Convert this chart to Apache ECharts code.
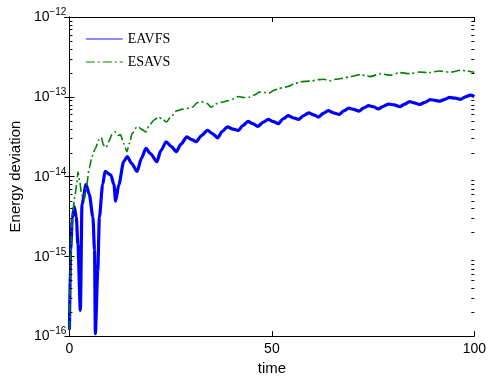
<!DOCTYPE html>
<html>
<head>
<meta charset="utf-8">
<script src="https://cdn.jsdelivr.net/npm/echarts@6/dist/echarts.min.js"></script>
<style>
  html, body { margin: 0; padding: 0; background: #fff; }
  #chart { width: 489px; height: 381px; }
</style>
</head>
<body>
<div id="chart"></div>
<script>
// Energy deviation over time for the two schemes
const tEAVFS = [0, 0.3, 0.7, 1.2, 1.7, 2.1, 2.7, 3.1, 4.1, 4.9, 5.8, 6.2, 6.4, 7.0, 7.4, 8.2, 8.8, 10.2, 11.0, 11.4,
  12.2, 13.4, 14.3, 15.3, 16.7, 17.8, 18.9, 20.0, 21.6, 22.6, 23.9, 25.1, 26.4, 27.5, 29.0, 30.2, 31.3, 32.6, 34.1, 35.3,
  36.6, 37.7, 39.0, 40.4, 41.7, 42.8, 44.1, 45.3, 46.5, 47.9, 49.1, 50.4, 51.6, 52.8, 54.0, 55.2, 56.6, 57.8, 59.1, 60.3,
  61.5, 62.7, 63.9, 65.2, 66.6, 67.8, 69.0, 70.2, 71.5, 72.7, 73.9, 75.1, 76.3, 77.5, 78.8, 80.2, 81.6, 82.8, 84.0, 85.2,
  86.4, 87.8, 89.1, 90.3, 91.5, 92.7, 93.9, 95.3, 96.6, 97.8, 99.0, 100];
const eavfs = [1.2e-16, 1.2e-15, 3.0e-15, 4.2e-15, 3.1e-15, 1.4e-15, 2.1e-16, 4.5e-15, 7.9e-15, 6.0e-15,
  3.1e-15, 1.2e-15, 1.07e-16, 6.7e-16, 3.1e-15, 7.9e-15, 1.16e-14, 1.05e-14, 7.9e-15, 4.9e-15,
  7.9e-15, 1.54e-14, 1.78e-14, 1.47e-14, 1.16e-14, 1.7e-14, 2.25e-14, 1.94e-14, 1.54e-14, 2.13e-14,
  2.73e-14, 2.39e-14, 2.05e-14, 2.53e-14, 3.15e-14, 2.91e-14, 2.73e-14, 3.27e-14, 3.8e-14, 3.46e-14,
  3.06e-14, 3.66e-14, 4.19e-14, 3.93e-14, 3.77e-14, 4.34e-14, 4.91e-14, 4.6e-14, 4.26e-14, 4.8e-14,
  5.2e-14, 4.87e-14, 4.6e-14, 5.3e-14, 5.8e-14, 5.46e-14, 5.2e-14, 5.78e-14, 6.3e-14, 5.94e-14,
  5.57e-14, 6.2e-14, 6.7e-14, 6.3e-14, 6.0e-14, 6.67e-14, 7.2e-14, 6.95e-14, 6.6e-14, 7.26e-14,
  7.75e-14, 7.5e-14, 7.05e-14, 7.6e-14, 8.1e-14, 7.9e-14, 7.5e-14, 8.1e-14, 8.7e-14, 8.4e-14,
  8.0e-14, 8.5e-14, 9.2e-14, 9.0e-14, 8.8e-14, 9.3e-14, 9.8e-14, 9.6e-14, 9.3e-14, 1.0e-13,
  1.05e-13, 1.01e-13];

const tESAVS = [0, 0.15, 0.4, 0.8, 1.3, 1.8, 2.1, 2.5, 3.0, 3.6, 4.2, 4.9, 5.6, 6.4, 7.2, 7.9, 8.4, 9.0, 9.8, 10.5,
  11.3, 12.0, 12.6, 13.4, 14.2, 14.8, 15.5, 16.5, 17.0, 18.0, 18.9, 19.8, 21.0, 22.0, 23.1, 24.0, 25.0, 26.5, 28.0, 29.5,
  30.5, 31.5, 32.6, 34.0, 35.0, 36.5, 37.8, 39.0, 40.5, 41.7, 43.0, 44.4, 45.6, 46.9, 48.2, 49.3, 50.6, 51.6, 53.4, 54.0,
  55.5, 56.9, 58.3, 59.8, 61.5, 62.9, 64.2, 65.7, 67.6, 69.5, 71.9, 73.5, 74.2, 77.0, 78.5, 79.2, 81.6, 84.0, 86.5, 88.9,
  91.3, 94.2, 96.6, 98.0, 99.3, 100];
const esavs = [1.2e-16, 4e-16, 1.5e-15, 3.5e-15, 5.5e-15, 8e-15, 1.15e-14, 9e-15, 6e-15, 5e-15,
  7.5e-15, 1.27e-14, 1.8e-14, 2.25e-14, 2.86e-14, 3.08e-14, 2.48e-14, 2.3e-14, 2.8e-14, 3.36e-14,
  3.63e-14, 3.27e-14, 3.36e-14, 2.6e-14, 2.05e-14, 2.6e-14, 3.45e-14, 4.1e-14, 4.18e-14, 3.87e-14,
  3.63e-14, 4.47e-14, 5.15e-14, 5.57e-14, 5.15e-14, 4.83e-14, 5.6e-14, 6.67e-14, 7.0e-14, 7.2e-14,
  7.45e-14, 8.4e-14, 8.7e-14, 8.25e-14, 7.4e-14, 8.25e-14, 8.6e-14, 8.9e-14, 9.4e-14, 1.01e-13,
  9.8e-14, 9.85e-14, 1.05e-13, 1.145e-13, 1.13e-13, 1.11e-13, 1.21e-13, 1.27e-13, 1.32e-13, 1.35e-13,
  1.44e-13, 1.54e-13, 1.56e-13, 1.58e-13, 1.64e-13, 1.66e-13, 1.58e-13, 1.66e-13, 1.71e-13, 1.79e-13,
  1.9e-13, 1.83e-13, 1.79e-13, 1.95e-13, 1.88e-13, 1.86e-13, 2.01e-13, 1.95e-13, 2.04e-13, 2.01e-13,
  2.1e-13, 2.04e-13, 2.15e-13, 2.12e-13, 2.06e-13, 2.03e-13];

const seriesNames = ['EAVFS', 'ESAVS'];
const xTicks = [0, 50, 100];
const yMin = 1e-16, yMax = 1e-12;

// minor log ticks (2..9 within each decade)
const minorTicks = [];
for (let e = -16; e < -12; e++) {
  for (let m = 2; m <= 9; m++) minorTicks.push(m * Math.pow(10, e));
}

const zip = (xs, ys) => xs.map((x, i) => [x, ys[i]]);
const SANS = 'Liberation Sans, Arial, Helvetica, sans-serif';

const chart = echarts.init(document.getElementById('chart'), null, { renderer: 'canvas' });

const yLabel = {
  margin: 3,
  formatter: v => {
    const e = Math.round(Math.log10(v));
    return '{b|10}{s|' + (e < 0 ? '\u2212' : '') + Math.abs(e) + '}';
  },
  rich: {
    b: { fontSize: 14, fontFamily: SANS, color: '#000', verticalAlign: 'bottom', padding: [0, 0, 2, 0] },
    s: { fontSize: 10, fontFamily: SANS, color: '#000', verticalAlign: 'bottom', padding: [0, 0, 9, 0] }
  }
};

chart.setOption({
  animation: false,
  backgroundColor: '#fff',
  grid: { left: 68, right: 10, top: 17, bottom: 41, containLabel: false },
  legend: {
    orient: 'vertical',
    left: 85,
    top: 32,
    padding: 0,
    itemWidth: 37,
    itemHeight: 14,
    itemGap: 9,
    itemStyle: { opacity: 0 },
    textStyle: { fontFamily: 'Liberation Serif, Times New Roman, serif', fontSize: 14, color: '#000' },
    data: [
      { name: seriesNames[0], lineStyle: { width: 1.5, color: '#6666ff' }, itemStyle: { opacity: 0 } },
      { name: seriesNames[1], lineStyle: { width: 1 }, itemStyle: { opacity: 0 } }
    ]
  },
  xAxis: [
    {
      type: 'value', min: 0, max: 100, interval: 50, position: 'bottom',
      name: 'time', nameLocation: 'middle', nameGap: 19,
      nameTextStyle: { fontFamily: SANS, fontSize: 15, color: '#000' },
      axisLine: { show: true, lineStyle: { color: '#000', width: 1 } },
      axisTick: { show: true, inside: true, length: 5, lineStyle: { color: '#000' } },
      axisLabel: { fontFamily: SANS, fontSize: 14, color: '#000', margin: 6, customValues: xTicks },
      splitLine: { show: false }
    },
    {
      type: 'value', min: 0, max: 100, interval: 50, position: 'top',
      axisLine: { show: true, lineStyle: { color: '#000', width: 1 } },
      axisTick: { show: true, inside: true, length: 5, lineStyle: { color: '#000' } },
      axisLabel: { show: false },
      splitLine: { show: false }
    }
  ],
  yAxis: [
    {
      type: 'log', logBase: 10, min: yMin, max: yMax, position: 'left',
      name: 'Energy deviation', nameLocation: 'middle', nameGap: 41,
      nameTextStyle: { fontFamily: SANS, fontSize: 15, color: '#000' },
      axisLine: { show: true, lineStyle: { color: '#000', width: 1 } },
      axisTick: { show: true, inside: true, length: 5, lineStyle: { color: '#000' } },
      axisLabel: yLabel,
      splitLine: { show: false }
    },
    {
      type: 'log', logBase: 10, min: yMin, max: yMax, position: 'right',
      axisLine: { show: true, lineStyle: { color: '#000', width: 1 } },
      axisTick: { show: true, inside: true, length: 5, lineStyle: { color: '#000' } },
      axisLabel: { show: false },
      splitLine: { show: false }
    }
  ],
  series: [
    {
      name: seriesNames[0], type: 'line', xAxisIndex: 0, yAxisIndex: 0,
      data: zip(tEAVFS, eavfs),
      symbol: 'none', smooth: 0.25, smoothMonotone: 'x',
      lineStyle: { color: '#0000ff', width: 3.2 },
      itemStyle: { color: '#0000ff' },
      z: 2
    },
    {
      name: seriesNames[1], type: 'line', xAxisIndex: 0, yAxisIndex: 0,
      data: zip(tESAVS, esavs),
      symbol: 'none', smooth: 0.25, smoothMonotone: 'x',
      lineStyle: { color: '#008000', width: 1.6, type: [9, 3, 2, 3] },
      itemStyle: { color: '#008000' },
      z: 3
    },
    {
      name: 'minorTicks', type: 'custom', xAxisIndex: 0, yAxisIndex: 0,
      silent: true, clip: false,
      data: minorTicks.map(v => [0, v]),
      renderItem: (params, api) => {
        const v = api.value(1);
        const pL = api.coord([0, v]);
        const pR = api.coord([100, v]);
        const y = Math.round(pL[1]) + 0.5;
        return {
          type: 'group',
          children: [
            { type: 'line', shape: { x1: pL[0], y1: y, x2: pL[0] + 3, y2: y }, style: { stroke: '#000', lineWidth: 1 } },
            { type: 'line', shape: { x1: pR[0], y1: y, x2: pR[0] - 3, y2: y }, style: { stroke: '#000', lineWidth: 1 } }
          ]
        };
      },
      z: 5
    }
  ]
});
</script>
</body>
</html>
